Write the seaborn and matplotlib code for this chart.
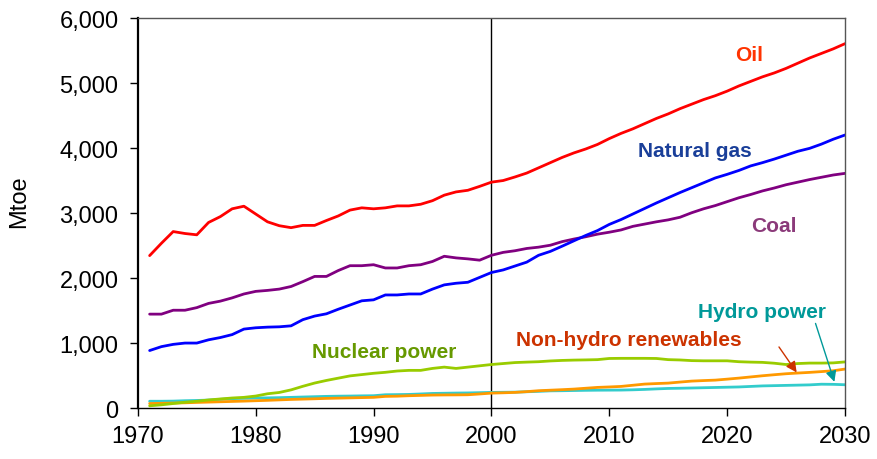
import matplotlib
matplotlib.use("Agg")
import matplotlib.pyplot as plt
import seaborn as sns
import pandas as pd
import numpy as np

years = list(range(1971, 2031))

oil = [2350, 2540, 2720, 2690, 2670, 2860, 2950, 3070, 3110, 2990,
       2870, 2810, 2780, 2815, 2815, 2890, 2960, 3050, 3085, 3070,
       3085, 3115, 3115, 3140, 3195, 3280, 3330, 3355, 3415, 3480,
       3505, 3560, 3620, 3700, 3780, 3860, 3930, 3990, 4060, 4150,
       4230, 4300, 4380, 4460, 4530, 4610, 4680, 4750, 4810, 4880,
       4960, 5030, 5100, 5160, 5230, 5310, 5390, 5460, 5530, 5610]

natural_gas = [890, 950, 985, 1005, 1005, 1055, 1090, 1135, 1220, 1240,
               1250, 1255, 1270, 1365, 1420, 1455, 1525, 1590, 1655, 1670,
               1745, 1745, 1760, 1760, 1835, 1900, 1925, 1940, 2015, 2090,
               2130, 2190, 2250, 2355, 2415, 2495, 2578, 2660, 2735, 2830,
               2905, 2990, 3075, 3160, 3240, 3320, 3395, 3470, 3545, 3600,
               3660, 3730, 3780, 3835, 3895, 3955, 4000, 4065, 4140, 4205]

coal = [1450, 1450, 1510, 1510, 1550, 1615, 1650, 1700, 1760, 1800,
        1815, 1835, 1875, 1950, 2030, 2030, 2120, 2195, 2195, 2210,
        2160, 2160, 2195, 2210, 2260, 2340, 2315, 2300, 2280, 2355,
        2400, 2425, 2460, 2480, 2510, 2565, 2605, 2640, 2680, 2710,
        2745, 2800, 2835, 2870, 2900, 2940, 3010, 3070, 3120, 3180,
        3240, 3290, 3345, 3390, 3440, 3480, 3520, 3555, 3590, 3615]

nuclear = [40, 55, 75, 95, 110, 130, 145, 160, 170, 190,
           225, 245, 285, 340, 390, 430, 465, 500, 520, 540,
           555, 575, 585, 585, 615, 635, 615, 635, 655, 675,
           690, 705, 712, 718, 730, 738, 743, 746, 750, 768,
           770, 770, 770, 768, 750, 745, 735, 732, 732, 732,
           718, 712, 708, 695, 675, 690, 697, 697, 700, 715]

hydro = [110, 110, 112, 118, 122, 128, 140, 150, 155, 160,
         162, 165, 170, 175, 180, 185, 188, 190, 193, 195,
         210, 212, 215, 222, 230, 233, 236, 238, 242, 246,
         248, 250, 256, 262, 270, 272, 275, 278, 280, 281,
         282, 286, 292, 300, 307, 310, 314, 318, 322, 326,
         330, 338, 346, 350, 354, 358, 362, 372, 370, 364]

non_hydro = [75, 78, 82, 86, 92, 97, 102, 107, 112, 118,
             124, 131, 138, 143, 148, 154, 158, 162, 166, 170,
             185, 188, 195, 200, 205, 207, 208, 210, 222, 235,
             240, 246, 258, 272, 280, 288, 297, 310, 323, 330,
             338, 356, 374, 382, 389, 405, 420, 428, 435, 450,
             466, 484, 502, 518, 533, 544, 554, 566, 579, 605]

series_names = ["Oil", "Natural gas", "Coal", "Nuclear power",
                "Non-hydro renewables", "Hydro power"]
series_values = [oil, natural_gas, coal, nuclear, non_hydro, hydro]

line_colors = {"Oil": "#FF0000", "Natural gas": "#0000FF", "Coal": "#800080",
               "Nuclear power": "#99CC00", "Non-hydro renewables": "#FF9900",
               "Hydro power": "#33CCCC"}
text_colors = {"Oil": "#FF3300", "Natural gas": "#1A3F99", "Coal": "#8B3A7A",
               "Nuclear power": "#669900", "Non-hydro renewables": "#CC3300",
               "Hydro power": "#009999"}

df = pd.DataFrame({
    "Year": np.tile(years, len(series_names)),
    "Mtoe": np.concatenate(series_values),
    "Fuel": np.repeat(series_names, len(years)),
})

sns.set_style("ticks")
plt.rcParams["font.family"] = ["Liberation Sans", "DejaVu Sans"]

fig = plt.figure(figsize=(8.78, 4.6), dpi=100)
ax = fig.add_axes([0.157, 0.110, 0.8054, 0.848])

draw_order = ["Hydro power", "Non-hydro renewables", "Nuclear power", "Coal", "Natural gas", "Oil"]
sns.lineplot(data=df, x="Year", y="Mtoe", hue="Fuel", hue_order=draw_order,
             palette=line_colors, linewidth=2.0, legend=False, ax=ax)

ax.axvline(2000, color="black", linewidth=1.0, zorder=1)

ax.set_xlim(1970, 2030)
ax.set_ylim(0, 6000)
ax.set_xticks(range(1970, 2031, 10))
ax.set_yticks(range(0, 6001, 1000))
ax.set_yticklabels([f"{v:,}" for v in range(0, 6001, 1000)])
ax.tick_params(axis="both", direction="out", length=6, width=1, labelsize=17,
               colors="black")
ax.tick_params(axis="y", pad=8)
ax.tick_params(axis="x", pad=6)
ax.set_xlabel("")
ax.set_ylabel("Mtoe", fontsize=17, color="black")
ax.yaxis.set_label_coords(-0.152, 0.532)

ax.spines["left"].set_color("black")
ax.spines["left"].set_linewidth(1.6)
ax.spines["bottom"].set_color("black")
ax.spines["bottom"].set_linewidth(1.0)
for s in ["top", "right"]:
    ax.spines[s].set_visible(True)
    ax.spines[s].set_color("#555555")
    ax.spines[s].set_linewidth(1.0)

label_pos = {"Oil": (2021.9, 5442), "Natural gas": (2017.3, 3970),
             "Coal": (2024.0, 2810), "Nuclear power": (1990.9, 880),
             "Non-hydro renewables": (2011.7, 1065), "Hydro power": (2023.0, 1497)}
for name, (x, y) in label_pos.items():
    ax.text(x, y, name, color=text_colors[name], fontsize=15, fontweight="bold",
            ha="center", va="center")

ax.annotate("", xy=(2025.9, 553), xytext=(2024.4, 945),
            arrowprops=dict(arrowstyle="-|>", color="#CC3300", lw=1.0,
                            mutation_scale=16, shrinkA=0, shrinkB=0))
ax.annotate("", xy=(2029.1, 409), xytext=(2027.5, 1307),
            arrowprops=dict(arrowstyle="-|>", color="#009999", lw=1.0,
                            mutation_scale=16, shrinkA=0, shrinkB=0))

fig.savefig("out.png", dpi=100)
